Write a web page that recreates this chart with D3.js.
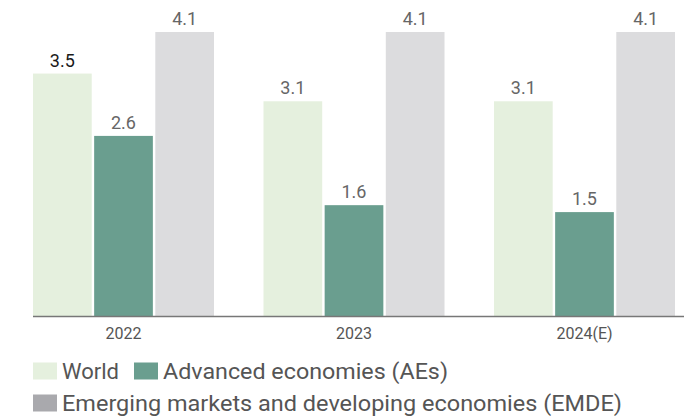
<!DOCTYPE html>
<html>
<head>
<meta charset="utf-8">
<script src="https://cdn.jsdelivr.net/npm/d3@7"></script>
<style>
  body { margin: 0; background: #fff; }
  svg { display: block; font-family: Roboto, "Noto Sans", sans-serif; }
</style>
</head>
<body>
<div id="chart"></div>
<script>
//
// Data
//
var years = ["2022", "2023", "2024(E)"];
var seriesNames = ["World", "Advanced economies (AEs)", "Emerging markets and developing economies (EMDE)"];
var world = [3.5, 3.1, 3.1];
var aes   = [2.6, 1.6, 1.5];
var emde  = [4.1, 4.1, 4.1];

var width = 684, height = 417;
var base = 316, top_ = 32;

var colors = ["#e5f0de", "#6a9e8f", "#dcdcde"];
var legendColors = ["#e5f0de", "#6a9e8f", "#a9a9ad"];

var svg = d3.select("#chart").append("svg")
    .attr("width", width)
    .attr("height", height);

var x0 = d3.scaleBand()
    .domain(years)
    .range([33, 675])
    .paddingInner(0.2147)
    .paddingOuter(0);

var x1 = d3.scaleBand()
    .domain(seriesNames)
    .range([0, x0.bandwidth()])
    .paddingInner(0.04);

var y = d3.scaleLinear()
    .domain([0, 4.1])
    .range([base, top_]);

var rows = years.map(function(yr, i) {
    return { year: yr, values: [world[i], aes[i], emde[i]] };
});

var group = svg.append("g").selectAll("g")
    .data(rows)
    .enter().append("g")
    .attr("transform", function(d) { return "translate(" + x0(d.year) + ",0)"; });

group.selectAll("rect")
    .data(function(d) { return d.values.map(function(v, j) { return { name: seriesNames[j], v: v, j: j }; }); })
    .enter().append("rect")
    .attr("x", function(d) { return x1(d.name); })
    .attr("y", function(d) { return y(d.v); })
    .attr("width", x1.bandwidth())
    .attr("height", function(d) { return base - y(d.v); })
    .attr("fill", function(d) { return colors[d.j]; });

group.selectAll("text")
    .data(function(d, i) { return d.values.map(function(v, j) { return { name: seriesNames[j], v: v, j: j, first: i == 0 && j == 0 }; }); })
    .enter().append("text")
    .attr("x", function(d) { return x1(d.name) + x1.bandwidth() / 2; })
    .attr("y", function(d) { return y(d.v) - 7; })
    .attr("text-anchor", "middle")
    .attr("font-size", "18px")
    .attr("fill", function(d) { return d.first ? "#1a1a1a" : "#666"; })
    .text(function(d) { return d3.format(".1f")(d.v); });

// axis
var xAxis = svg.append("g")
    .attr("transform", "translate(0," + base + ")")
    .call(d3.axisBottom(x0).tickSize(0).tickPadding(12));
xAxis.select(".domain").remove();
xAxis.selectAll("text")
    .attr("font-size", "16px")
    .attr("font-family", "Roboto, sans-serif")
    .attr("fill", "#555");

svg.append("line")
    .attr("x1", 33).attr("x2", 684)
    .attr("y1", base + 0.5).attr("y2", base + 0.5)
    .attr("stroke", "#777")
    .attr("stroke-width", 1.5);

// legend
var legendItems = [
    { name: seriesNames[0], c: legendColors[0], x: 33, y: 371, tl: 57 },
    { name: seriesNames[1], c: legendColors[1], x: 134, y: 371, tl: 285 },
    { name: seriesNames[2], c: legendColors[2], x: 33, y: 403, tl: 560 }
];

var leg = svg.append("g").selectAll("g")
    .data(legendItems)
    .enter().append("g")
    .attr("transform", function(d) { return "translate(" + d.x + "," + d.y + ")"; });

leg.append("rect")
    .attr("x", 0).attr("y", -8.5)
    .attr("width", 24).attr("height", 17)
    .attr("fill", function(d) { return d.c; });

leg.append("text")
    .attr("x", 29)
    .attr("y", 8)
    .attr("font-size", "22px")
    .attr("fill", "#555")
    .attr("textLength", function(d) { return d.tl; })
    .attr("lengthAdjust", "spacingAndGlyphs")
    .text(function(d) { return d.name; });
</script>
</body>
</html>
